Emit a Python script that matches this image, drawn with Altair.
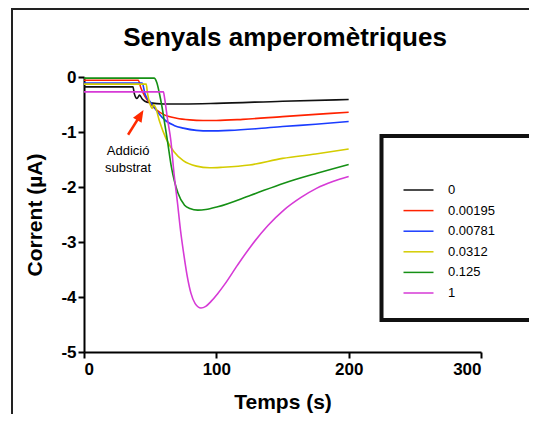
import altair as alt
import pandas as pd

FONT = "Liberation Sans"

series_labels = ["0", "0.00195", "0.00781", "0.0312", "0.125", "1"]
series_colors = ["#111111", "#ff2200", "#1a3cff", "#d4cc00", "#159015", "#d63ad6"]

t_0 = [0, 37, 38, 40, 42, 44, 46, 50, 60, 75, 100, 150, 200]
i_0 = [-0.18, -0.18, -0.30, -0.39, -0.33, -0.40, -0.44, -0.47, -0.49, -0.49, -0.48, -0.44, -0.41]

t_1 = [0, 41, 43, 46, 50, 55, 60, 70, 80, 90, 100, 120, 150, 175, 200]
i_1 = [-0.06, -0.06, -0.20, -0.35, -0.48, -0.60, -0.68, -0.75, -0.78, -0.79, -0.79, -0.77, -0.72, -0.68, -0.64]

t_2 = [0, 44, 46, 48, 50, 53, 56, 62, 68, 75, 85, 95, 110, 130, 150, 175, 200]
i_2 = [-0.11, -0.11, -0.30, -0.40, -0.45, -0.55, -0.65, -0.80, -0.88, -0.93, -0.97, -0.98, -0.97, -0.94, -0.90, -0.86, -0.81]

t_3 = [0, 47, 48, 50, 51.5, 52.5, 54, 57, 62, 68, 75, 85, 95, 105, 125, 150, 175, 200]
i_3 = [-0.13, -0.13, -0.30, -0.50, -0.57, -0.50, -0.55, -0.80, -1.12, -1.36, -1.52, -1.62, -1.65, -1.64, -1.60, -1.48, -1.40, -1.31]

t_4 = [0, 53, 55, 57, 59, 61, 63, 66, 71, 76, 80, 86, 92, 101, 126, 151, 176, 200]
i_4 = [-0.02, -0.02, -0.10, -0.30, -0.55, -0.85, -1.15, -1.63, -2.11, -2.33, -2.39, -2.42, -2.41, -2.36, -2.15, -1.93, -1.75, -1.59]

t_5 = [0, 60, 61, 63, 65.6, 68, 70.7, 73, 75.7, 78, 80.8, 84, 88.4, 92, 96, 101, 106, 116, 126, 139, 151, 164, 176, 188, 200]
i_5 = [-0.27, -0.27, -0.40, -0.75, -1.15, -1.75, -2.30, -2.80, -3.27, -3.62, -3.93, -4.12, -4.20, -4.17, -4.08, -3.94, -3.78, -3.42, -3.08, -2.70, -2.42, -2.19, -2.02, -1.90, -1.81]

x_ticks = [0, 100, 200, 300]
y_ticks = [0, -1, -2, -3, -4, -5]

# annotation (data coordinates)
note_lines = ["Addició", "substrat"]
note_t = [33.3, 33.3]
note_i = [-1.345, -1.655]
arrow_tail = (33.3, -1.05)
arrow_head = (42.6, -0.693)

all_t = [t_0, t_1, t_2, t_3, t_4, t_5]
all_i = [i_0, i_1, i_2, i_3, i_4, i_5]
rows = []
for lab, ts, vs in zip(series_labels, all_t, all_i):
    for k, (t, v) in enumerate(zip(ts, vs)):
        rows.append({"t": t, "I": v, "series": lab, "order": k})
df = pd.DataFrame(rows)

xscale = alt.Scale(domain=[0, 300], nice=False)
yscale = alt.Scale(domain=[-5, 0], nice=False)

lines = alt.Chart(df).mark_line(strokeWidth=1.6, interpolate="monotone").encode(
    x=alt.X("t:Q", scale=xscale, axis=alt.Axis(
        values=x_ticks, title="Temps (s)", grid=False,
        domainColor="black", domainWidth=2, tickColor="black", tickWidth=2, tickSize=6,
        labelFont=FONT, labelFontSize=17, labelFontWeight="bold", labelColor="black",
        labelPadding=3, labelExpr="'' + datum.value",
        titleFont=FONT, titleFontSize=21, titleFontWeight="bold", titleColor="black",
        titleY=56, titleBaseline="alphabetic")),
    y=alt.Y("I:Q", scale=yscale, axis=alt.Axis(
        values=y_ticks, title="Corrent (µA)", grid=False,
        domainColor="black", domainWidth=2, tickColor="black", tickWidth=2, tickSize=6,
        labelFont=FONT, labelFontSize=17, labelFontWeight="bold", labelColor="black",
        labelPadding=2, labelExpr="'' + datum.value",
        titleFont=FONT, titleFontSize=21, titleFontWeight="bold", titleColor="black",
        titleX=-49, titleY=137.5, titleAngle=270, titleBaseline="middle", titleAlign="center")),
    color=alt.Color("series:N", scale=alt.Scale(domain=series_labels, range=series_colors),
                    legend=alt.Legend(orient="none", legendX=328, legendY=106.5, title=None,
                                      symbolType="M-3,0H3", symbolSize=100, symbolStrokeWidth=1.5,
                                      labelFont=FONT, labelFontSize=13, labelColor="black",
                                      labelOffset=23, rowPadding=6.6, padding=0)),
    detail="series:N",
    order="order:Q",
)

one = alt.Data(values=[{}])

def rule(x, y, x2, y2, w, color="black", cap="square"):
    return alt.Chart(one).mark_rule(strokeWidth=w, color=color, strokeCap=cap).encode(
        x=alt.value(x), y=alt.value(y), x2=alt.value(x2), y2=alt.value(y2))

frame_left = rule(-72, -68, -72, 360, 2, "#222222")
frame_top = rule(-72, -68, 445, -68, 2, "#222222", "butt")
box_top = rule(297.5, 59, 445, 59, 4, "#111111", "butt")
box_left = rule(297.5, 57, 297.5, 245, 4, "#111111", "butt")
box_bottom = rule(297.5, 243, 445, 243, 4, "#111111", "butt")

title = alt.Chart(one).mark_text(
    text="Senyals amperomètriques", font=FONT, fontSize=26, fontWeight="bold",
    color="black", align="center", baseline="alphabetic").encode(
    x=alt.value(201), y=alt.value(-31.5))

note_df = pd.DataFrame({"t": note_t, "I": note_i, "txt": note_lines})
note = alt.Chart(note_df).mark_text(font=FONT, fontSize=13, color="black",
                                   align="center", baseline="middle").encode(
    x=alt.X("t:Q", scale=xscale), y=alt.Y("I:Q", scale=yscale), text="txt:N")

arrow_df = pd.DataFrame({"t": [arrow_tail[0]], "I": [arrow_tail[1]],
                         "t2": [arrow_head[0]], "I2": [arrow_head[1]]})
arrow_line = alt.Chart(arrow_df).mark_rule(strokeWidth=2.5, color="#ff2a00").encode(
    x=alt.X("t:Q", scale=xscale), y=alt.Y("I:Q", scale=yscale), x2="t2:Q", y2="I2:Q")
arrow_tip = alt.Chart(arrow_df).mark_point(
    shape="M0,-1.2L-1,1.2L1,1.2Z", size=100, filled=True, opacity=1,
    color="#ff2a00", angle=31).encode(
    x=alt.X("t2:Q", scale=xscale), y=alt.Y("I2:Q", scale=yscale))

chart = alt.layer(
    lines, note, arrow_line, arrow_tip, title,
    frame_left, frame_top, box_top, box_left, box_bottom,
).properties(
    width=397, height=275,
    padding={"left": 76, "top": 69, "right": 50, "bottom": 62},
    autosize=alt.AutoSizeParams(type="none"),
    background="white",
).configure_view(strokeWidth=0)

chart.save("out.html", embed_options={"renderer": "svg", "actions": False})
